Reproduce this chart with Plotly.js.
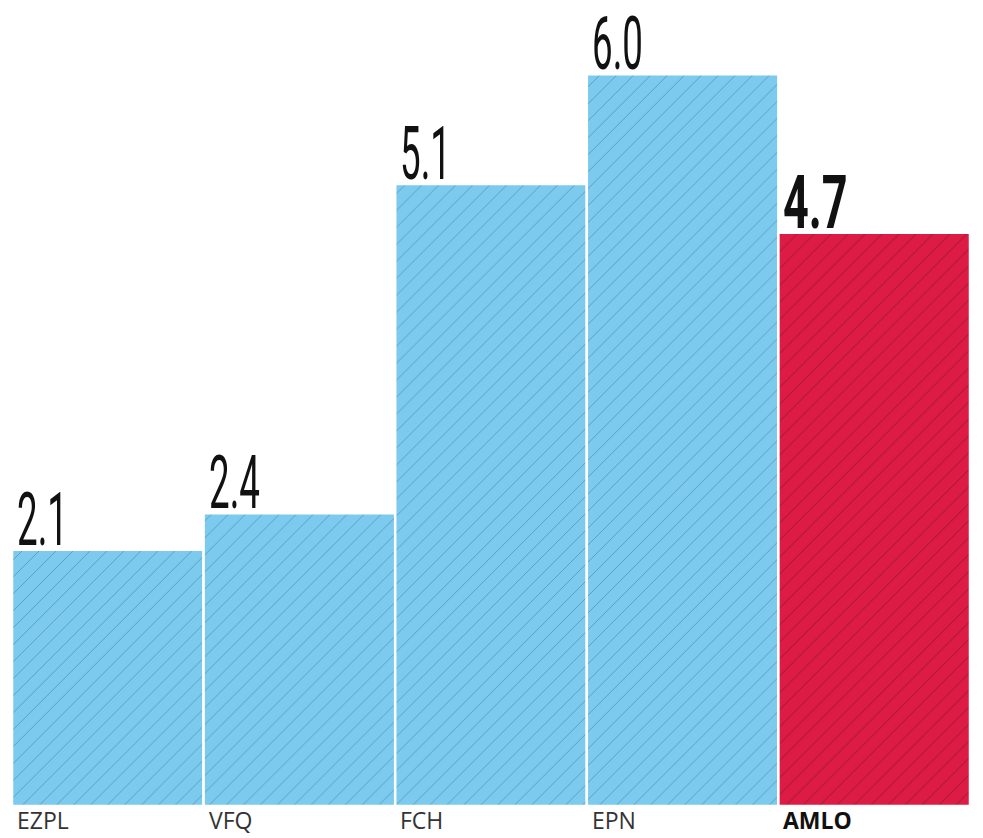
<!DOCTYPE html>
<html>
<head>
<meta charset="utf-8">
<script src="https://cdn.plot.ly/plotly-3.0.1.min.js"></script>
<style>
html,body{margin:0;padding:0;background:#fff;}
#chart{width:983px;height:838px;}
</style>
</head>
<body>
<div id="chart"></div>
<script>
var categories = ["EZPL", "VFQ", "FCH", "EPN", "AMLO"];
var values = [2.1, 2.4, 5.1, 6.0, 4.7];
var valueLabels = ["2.1", "2.4", "5.1", "6.0", "4.7"];
var highlight = [false, false, false, false, true];
var baseColor = "#7ccbef";
var baseHatch = "#5b9cc1";
var highColor = "#dc1c44";
var highHatch = "#9c1530";

function pick(flag) {
  return values.map(function (v, i) { return highlight[i] === flag ? v : null; });
}

function barTrace(flag, fill, hatch) {
  return {
    type: "bar",
    x: categories,
    y: pick(flag),
    marker: {
      color: fill,
      line: {color: "#ffffff", width: 2.5},
      pattern: {shape: "/", fillmode: "overlay", bgcolor: fill, fgcolor: hatch, fgopacity: 1, size: 12, solidity: 0.08}
    },
    hoverinfo: "skip"
  };
}

var traces = [barTrace(false, baseColor, baseHatch), barTrace(true, highColor, highHatch)];

var annotations = [];
categories.forEach(function (c, i) {
  annotations.push({
    xref: "x", yref: "y", x: i - 0.5, y: values[i],
    xanchor: "left", yanchor: "bottom", xshift: 3, yshift: -15,
    text: highlight[i] ? "<b>" + valueLabels[i] + "</b>" : valueLabels[i],
    showarrow: false,
    font: {family: "Roboto, sans-serif", size: 75, color: "#111"}
  });
  annotations.push({
    xref: "x", yref: "y", x: i - 0.5, y: 0,
    xanchor: "left", yanchor: "bottom", xshift: 3, yshift: -32,
    text: highlight[i] ? "<b>" + c + "</b>" : c,
    showarrow: false,
    font: {family: "Open Sans, sans-serif", size: 23, color: highlight[i] ? "#111" : "#333"}
  });
});

var layout = {
  width: 983, height: 838,
  margin: {l: 12, r: 13, t: 1, b: 32},
  paper_bgcolor: "#ffffff", plot_bgcolor: "#ffffff",
  bargap: 0,
  barmode: "overlay",
  showlegend: false,
  xaxis: {range: [-0.5, 4.5], showticklabels: false, showgrid: false, zeroline: false, showline: false, ticks: ""},
  yaxis: {range: [0, 6.6], showticklabels: false, showgrid: false, zeroline: false, showline: false, ticks: ""},
  annotations: annotations
};

Plotly.newPlot("chart", traces, layout, {displayModeBar: false, staticPlot: true}).then(function (gd) {
  var anns = gd.querySelectorAll("g.annotation");
  anns.forEach(function (g, k) {
    if (k % 2 === 0) {
      var idx = k / 2;
      var t = g.querySelector("text.annotation-text");
      if (t) {
        t.style.transformBox = "fill-box";
        t.style.transformOrigin = "0% 100%";
        t.style.transform = "scaleX(" + (highlight[idx] ? 0.6 : 0.49) + ")";
      }
    }
  });
});
</script>
</body>
</html>
